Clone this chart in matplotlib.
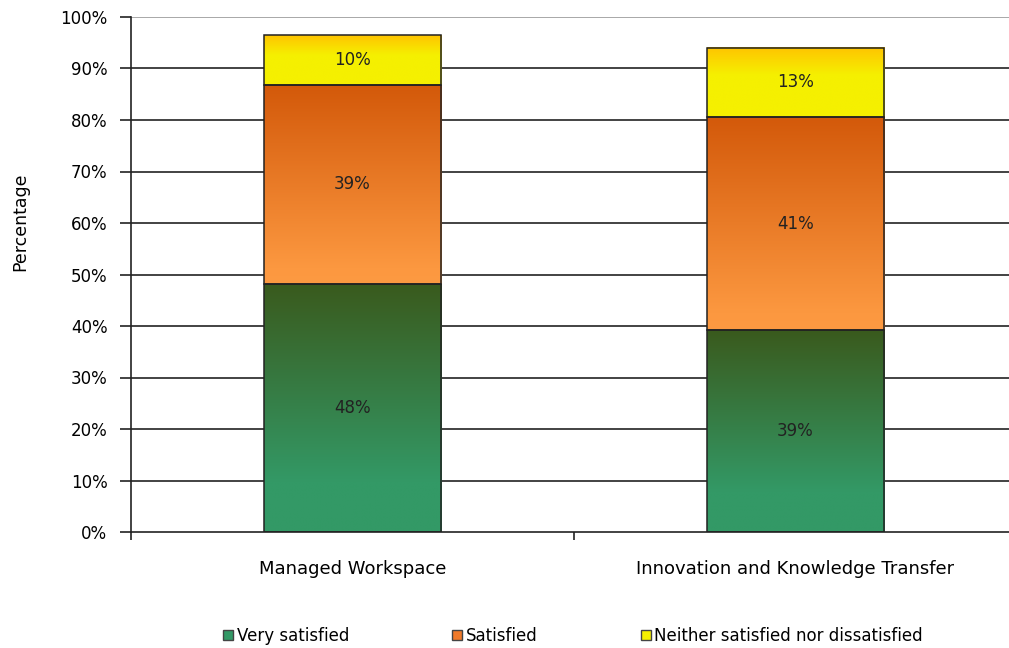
import numpy as np
import matplotlib
matplotlib.use("Agg")
import matplotlib.pyplot as plt
from matplotlib.colors import LinearSegmentedColormap
from matplotlib.patches import Rectangle, Patch

categories = ["Managed Workspace", "Innovation and Knowledge Transfer"]
series_names = ["Very satisfied", "Satisfied", "Neither satisfied nor dissatisfied"]
very_satisfied = [48.2, 39.2]
satisfied = [38.6, 41.4]
neither = [9.7, 13.4]
y_ticks = [0, 10, 20, 30, 40, 50, 60, 70, 80, 90, 100]

# gradient stops, bottom -> top of each segment
gradients = [
    [(0.0, "#339966"), (0.2, "#339966"), (1.0, "#3A5A1D")],
    [(0.0, "#FD9A42"), (0.08, "#FC9840"), (1.0, "#D3590A")],
    [(0.0, "#F5F000"), (0.6, "#F5F000"), (1.0, "#FFC400")],
]
legend_colors = ["#339966", "#F07A2A", "#F5F000"]

plt.rcParams["font.family"] = ["DejaVu Sans"]
fig = plt.figure(figsize=(10.09, 6.48), dpi=100)
ax = fig.add_axes([131 / 1009, 1 - 532 / 648, 886 / 1009, 515 / 648])

bar_width = 0.4
x = np.arange(len(categories))
grad = np.linspace(0, 1, 256).reshape(-1, 1)

values = [very_satisfied, satisfied, neither]
bottoms = np.zeros(len(categories))
for vals, stops in zip(values, gradients):
    cmap = LinearSegmentedColormap.from_list("g", stops)
    for i, v in enumerate(vals):
        x0 = x[i] - bar_width / 2
        y0 = bottoms[i]
        ax.imshow(grad, cmap=cmap, origin="lower", aspect="auto",
                  extent=[x0, x0 + bar_width, y0, y0 + v], zorder=3,
                  interpolation="bilinear")
        ax.add_patch(Rectangle((x0, y0), bar_width, v, fill=False,
                               edgecolor="#222222", lw=1.1, zorder=4))
        ax.text(x[i], y0 + v / 2, f"{round(v):.0f}%", ha="center", va="center",
                fontsize=12, color="#222222", zorder=5)
    bottoms += np.array(vals)

ax.set_xlim(-0.5, 1.5)
ax.set_ylim(0, 100)

ax.set_yticks(y_ticks)
ax.set_yticklabels([f"{t}%" for t in y_ticks], fontsize=12)
for t in y_ticks[1:]:
    ax.axhline(t, color="#9a9a9a" if t == 100 else "#222222", lw=1.2, zorder=1)

ax.set_xticks(x)
ax.set_xticklabels(categories, fontsize=13)
ax.tick_params(axis="x", length=0, pad=20)
ax.set_xticks([-0.5, 0.5, 1.5], minor=True)
ax.tick_params(axis="x", which="minor", length=6, width=1.2, color="#222222")
ax.tick_params(axis="y", length=8, width=1.2, color="#222222", pad=9)

for s in ["top", "right"]:
    ax.spines[s].set_visible(False)
for s in ["left", "bottom"]:
    ax.spines[s].set_linewidth(1.2)
    ax.spines[s].set_color("#222222")
ax.spines["bottom"].set_zorder(6)

fig.text(20 / 1009, 1 - 222 / 648, "Percentage", rotation=90, ha="center",
         va="center", fontsize=12.5)

handles = [Patch(facecolor=c, edgecolor="#444444", lw=1) for c in legend_colors]
fig.legend(handles, series_names, loc="center", ncol=3, frameon=False,
           bbox_to_anchor=(573 / 1009, 1 - 636 / 648), fontsize=12,
           handlelength=0.6, handleheight=0.6, handletextpad=0.2,
           columnspacing=6.2)

fig.savefig("out.png", dpi=100)
